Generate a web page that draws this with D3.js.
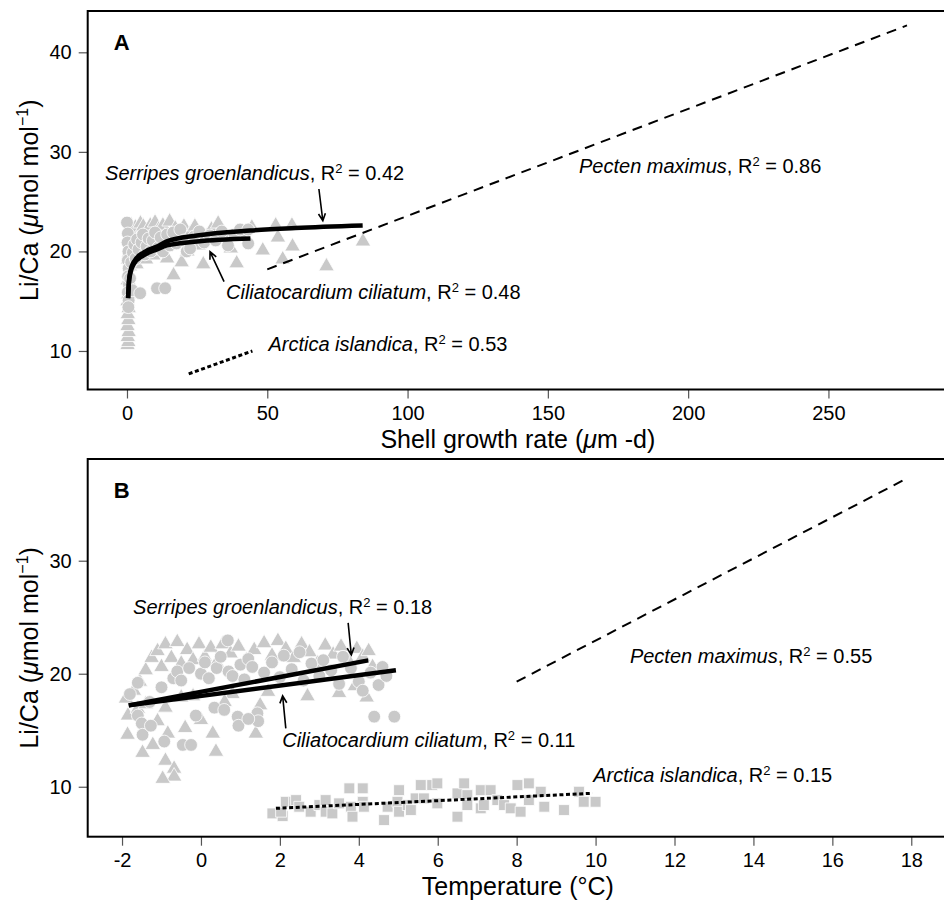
<!DOCTYPE html>
<html>
<head>
<meta charset="utf-8">
<script src="https://cdn.jsdelivr.net/npm/d3@7"></script>
<style>
  html, body { margin: 0; padding: 0; background: #fff; }
  svg { display: block; font-family: "Liberation Sans", Arial, Helvetica, sans-serif; }
</style>
</head>
<body>
<svg id="chart" width="944" height="900"></svg>
<script>
// ---------- data ----------
// Panel A: Li/Ca against shell growth rate (µm per day)
const serripesGrowth = [
  [0.2,10.6],[0.5,10.9],[0.3,11.4],[0.6,11.9],[0.2,12.5],[0.5,13.1],[0.3,13.7],[0.6,14.3],[0.2,15.0],[0.5,15.7],
  [0.8,16.4],[0.3,17.1],[0.6,17.8],[1.0,18.5],[0.4,19.2],[0.8,19.9],[1.2,20.6],[0.5,21.3],[0.9,22.0],[1.5,22.6],
  [1.8,19.4],[2.2,21.6],[2.6,20.3],[3.0,22.4],[3.4,18.7],[3.8,21.1],[4.3,19.9],[4.8,22.8],[5.3,20.6],[5.8,22.5],
  [6.3,21.3],[6.8,19.2],[7.3,22.0],[7.8,20.4],[8.3,22.6],[8.8,21.4],[9.4,19.6],[10.0,22.9],[10.6,20.9],[11.3,22.2],
  [12.0,20.1],[12.8,22.6],[13.5,21.5],[14.3,19.3],[15.2,23.0],[16.0,20.7],[16.6,17.6],[17.2,22.3],[18.2,21.2],[19.5,18.9],
  [20.3,22.5],[21.5,20.0],[22.5,21.8],[24.2,22.5],[25.5,20.6],[27.2,18.7],[28.3,21.5],[30.1,22.2],[32.5,22.8],[34.8,21.4],
  [37.0,20.3],[39.1,18.8],[40.5,21.7],[44.5,22.4],[48.4,20.1],[53.0,22.6],[53.8,21.4],[55.5,19.2],[58.8,22.6],[59.0,20.5],
  [71.1,18.5],[84.1,21.0]
];
const ciliatumGrowth = [
  [0.0,22.9],[0.3,21.8],[0.2,20.9],[0.5,20.0],[0.3,19.1],[0.6,18.3],[0.4,17.5],[0.7,16.7],[0.3,15.9],[0.6,15.1],
  [0.5,14.4],[1.1,17.3],[1.5,18.9],[1.9,16.1],[2.1,19.9],[2.6,20.7],[3.1,19.3],[3.6,21.2],[4.1,20.2],[4.7,15.8],
  [5.2,20.9],[5.7,21.7],[6.4,19.7],[7.0,20.5],[7.7,21.3],[8.5,20.0],[9.2,21.1],[10.0,21.9],[10.7,16.3],[11.2,20.4],
  [12.0,21.4],[12.8,20.0],[13.6,16.3],[14.3,21.7],[15.3,20.6],[16.5,21.9],[17.6,20.8],[19.0,22.2],[20.2,21.1],[21.3,20.0],
  [22.5,20.3],[24.0,21.5],[25.8,22.0],[27.5,20.9],[29.5,21.6],[31.6,21.1],[33.8,22.0],[36.0,20.6],[38.3,21.7],[40.3,22.2],
  [43.2,22.2],[43.2,20.8]
];
// fitted curves (growth rate, Li/Ca)
const serripesGrowthFit = [[0.4,15.3],[0.7,17.0],[1.2,18.0],[2.35,18.9],[5.9,19.9],[10.7,20.5],[14.2,21.0],[25,21.6],[44,22.1],[60,22.35],[84,22.6]];
const ciliatumGrowthFit = [[0.4,15.3],[0.7,16.9],[1.2,17.8],[2.35,18.7],[5.9,19.6],[10.7,20.2],[14.2,20.6],[25,21.0],[44,21.3]];
const pectenGrowthFit   = [[50,18.2],[278,42.7]];
const arcticaGrowthFit  = [[22,7.7],[44.7,10.0]];

// Panel B: Li/Ca against temperature (°C)
const serripesTemp = [
  [-1.9,17.8],[-1.85,16.3],[-1.7,18.5],[-1.55,19.3],[-1.4,20.3],[-1.25,21.4],[-1.1,22.0],[-1.0,20.6],[-0.9,22.6],[-0.75,21.4],
  [-0.6,22.8],[-0.5,20.9],[-0.35,22.1],[-0.2,21.2],[-0.05,22.6],[0.1,21.5],[0.25,22.3],[0.4,21.0],[0.55,22.6],[0.75,21.8],
  [0.95,22.4],[1.15,21.2],[1.35,22.1],[1.6,22.7],[1.8,21.6],[1.95,22.9],[2.15,22.2],[2.35,21.4],[2.55,22.6],[2.75,21.9],
  [2.95,20.9],[3.15,22.5],[3.35,21.7],[3.55,22.4],[3.75,21.1],[3.95,22.2],[4.1,21.5],[4.25,22.0],[4.35,20.6],
  [3.9,18.9],[3.5,18.3],[4.2,17.9],[2.7,18.0],[1.7,18.4],[0.8,18.2],[-0.2,18.0],[0.6,17.5],[1.5,17.2],[-0.9,17.0],
  [-0.5,17.9],[-1.6,16.9],[-1.4,17.3],[-1.1,15.8],[-0.4,15.2],[0.0,15.9],[0.3,14.7],[1.39,14.7],[-0.84,14.7],[-1.86,14.6],
  [-1.22,13.7],[-1.48,13.0],[0.38,13.1],[-0.9,12.3],[-0.68,11.6],[-0.68,10.9],[-0.97,10.7]
];
const ciliatumTemp = [
  [-1.8,18.2],[-1.6,19.2],[-1.6,16.3],[-1.5,15.6],[-1.48,14.6],[-1.27,15.4],[-1.3,17.5],[-1.0,18.8],[-0.93,14.0],[-0.7,19.6],
  [-0.6,20.2],[-0.5,19.4],[-0.46,13.7],[-0.3,20.5],[-0.25,13.7],[-0.13,16.3],[0.0,20.0],[0.1,21.0],[0.2,19.6],[0.34,17.0],
  [0.4,20.5],[0.5,21.5],[0.59,16.8],[0.68,22.95],[0.7,20.2],[0.8,19.8],[0.93,16.2],[1.0,20.8],[1.1,19.5],[1.2,21.3],
  [1.3,20.6],[1.43,16.5],[1.45,15.8],[1.6,20.1],[1.8,21.0],[2.0,19.7],[2.1,21.6],[2.3,20.4],[2.5,21.9],[2.6,19.4],
  [2.8,20.9],[3.0,19.8],[3.1,21.2],[3.3,20.3],[3.5,19.1],[3.6,21.5],[3.8,20.5],[4.0,19.3],[4.1,18.5],[4.3,20.1],
  [4.39,16.2],[4.5,19.0],[4.6,20.6],[4.7,19.8],[4.9,16.2],[0.95,15.4],[1.2,16.0]
];
const arcticaTemp = [
  [1.81,7.64],[2.07,7.4],[2.03,7.79],[2.15,8.67],[2.36,8.67],[2.41,8.82],[2.49,8.23],[2.78,7.79],[3.0,8.38],[3.16,7.79],
  [3.16,8.82],[3.33,7.64],[3.5,8.53],[3.76,9.86],[3.8,8.23],[3.84,7.35],[4.1,9.86],[4.1,8.67],[4.13,8.23],[4.64,7.05],
  [4.73,8.23],[4.98,8.67],[5.02,9.7],[5.02,7.79],[5.24,8.38],[5.32,7.94],[5.44,8.97],[5.57,10.15],[5.65,8.97],[5.86,10.15],
  [5.99,10.3],[5.99,8.53],[6.5,7.35],[6.5,9.41],[6.67,10.3],[6.75,9.26],[6.75,8.38],[7.09,9.7],[7.09,8.09],[7.17,8.38],
  [7.34,9.7],[7.51,8.82],[7.68,8.38],[7.85,8.09],[8.02,10.15],[8.1,7.79],[8.31,10.3],[8.31,8.82],[8.61,9.56],[8.7,8.23],
  [9.2,7.94],[9.58,9.56],[9.7,8.67],[10.0,8.67]
];
const serripesTempFit = [[-1.83,17.2],[4.24,21.18]];
const ciliatumTempFit = [[-1.83,17.2],[4.94,20.3]];
const pectenTempFit   = [[8.0,19.3],[17.9,37.3]];
const arcticaTempFit  = [[1.9,8.09],[9.92,9.42]];

// tick values
const growthTicks = [0, 50, 100, 150, 200, 250];
const tempTicks = [-2, 0, 2, 4, 6, 8, 10, 12, 14, 16, 18];
const liCaTicksA = [10, 20, 30, 40];
const liCaTicksB = [10, 20, 30];

// species labels with R² values
const labelsA = [
  { name: "Serripes groenlandicus", r2: "0.42", x: -7.8, y: 27.17 },
  { name: "Ciliatocardium ciliatum", r2: "0.48", x: 35.3, y: 15.22 },
  { name: "Arctica islandica", r2: "0.53", x: 50.4, y: 10.03 },
  { name: "Pecten maximus", r2: "0.86", x: 161.1, y: 27.85 }
];
const labelsB = [
  { name: "Serripes groenlandicus", r2: "0.18", x: -1.72, y: 25.31 },
  { name: "Ciliatocardium ciliatum", r2: "0.11", x: 2.06, y: 13.5 },
  { name: "Arctica islandica", r2: "0.15", x: 9.94, y: 10.41 },
  { name: "Pecten maximus", r2: "0.55", x: 10.87, y: 20.91 }
];
// arrows from labels to their fit lines: [from, to]
const arrowsA = [ [[68.4,26.27],[69.8,23.08]], [[34.6,16.96],[29.6,19.97]] ];
const arrowsB = [ [[3.73,24.5],[3.81,21.66]], [[2.15,15.16],[2.07,18.04]] ];

// ---------- drawing ----------
const svg = d3.select("#chart");
const LEFT = 87.7, RIGHT = 946;
const ptFill = "#c9c9c9";

function panel(opt) {
  const x = d3.scaleLinear().domain(opt.xDomain).range([LEFT, RIGHT]);
  const y = d3.scaleLinear().domain(opt.yDomain).range([opt.bottom, opt.top]);
  const g = svg.append("g");

  // points
  const pts = g.append("g");
  const sym = (type, size) => d3.symbol().type(type).size(size)();
  pts.selectAll("path.tri").data(opt.triangles).join("path")
    .attr("d", sym(d3.symbolTriangle, 105))
    .attr("transform", d => `translate(${x(d[0])},${y(d[1])})`)
    .attr("fill", ptFill).attr("stroke", "#fff").attr("stroke-width", 0.8);
  pts.selectAll("circle").data(opt.circles).join("circle")
    .attr("cx", d => x(d[0])).attr("cy", d => y(d[1])).attr("r", 6.4)
    .attr("fill", ptFill).attr("stroke", "#fff").attr("stroke-width", 0.8);
  if (opt.squares) {
    pts.selectAll("path.sq").data(opt.squares).join("path")
      .attr("d", sym(d3.symbolSquare, 118))
      .attr("transform", d => `translate(${x(d[0])},${y(d[1])})`)
      .attr("fill", ptFill).attr("stroke", "#fff").attr("stroke-width", 0.8);
  }

  // fit lines
  const line = d3.line().x(d => x(d[0])).y(d => y(d[1]));
  const curve = d3.line().x(d => x(d[0])).y(d => y(d[1])).curve(d3.curveMonotoneX);
  const fits = g.append("g").attr("fill", "none").attr("stroke", "#000");
  fits.append("path").attr("d", line(opt.arctica)).attr("stroke-width", 3).attr("stroke-dasharray", "4,2.6");
  fits.append("path").attr("d", line(opt.pecten)).attr("stroke-width", 2).attr("stroke-dasharray", "10,7");
  fits.append("path").attr("d", curve(opt.ciliatumFit)).attr("stroke-width", 4.5).attr("stroke-linecap", "butt");
  fits.append("path").attr("d", curve(opt.serripesFit)).attr("stroke-width", 4.5).attr("stroke-linecap", "butt");

  // arrows
  const ar = g.append("g").attr("stroke", "#000").attr("stroke-width", 1.6).attr("fill", "none");
  opt.arrows.forEach(([a, b]) => {
    const x1 = x(a[0]), y1 = y(a[1]), x2 = x(b[0]), y2 = y(b[1]);
    const ang = Math.atan2(y2 - y1, x2 - x1), L = 8, s = Math.PI / 7;
    ar.append("path").attr("d",
      `M${x1},${y1}L${x2},${y2}` +
      `M${x2 - L * Math.cos(ang - s)},${y2 - L * Math.sin(ang - s)}L${x2},${y2}` +
      `L${x2 - L * Math.cos(ang + s)},${y2 - L * Math.sin(ang + s)}`);
  });

  // species labels
  opt.labels.forEach(l => {
    const t = g.append("text").attr("x", x(l.x)).attr("y", y(l.y))
      .attr("font-size", 20).attr("fill", "#000");
    t.append("tspan").attr("font-style", "italic").text(l.name);
    t.append("tspan").text(", R");
    t.append("tspan").attr("font-size", 13).attr("dy", -7).text("2");
    t.append("tspan").attr("dy", 7).text(" = " + l.r2);
  });

  // panel letter
  g.append("text").attr("x", LEFT + 26).attr("y", opt.top + 39)
    .attr("font-size", 22).attr("font-weight", "bold").text(opt.letter);

  // axes (plain hyphen for negative tick labels)
  const fmt = d => String(d);
  const xa = g.append("g").attr("transform", `translate(0,${opt.bottom})`)
    .call(d3.axisBottom(x).tickValues(opt.xTicks).tickFormat(fmt).tickSize(9).tickPadding(6));
  const ya = g.append("g").attr("transform", `translate(${LEFT},0)`)
    .call(d3.axisLeft(y).tickValues(opt.yTicks).tickFormat(fmt).tickSize(9).tickPadding(7));
  [xa, ya].forEach(a => {
    a.select(".domain").remove();
    a.selectAll(".tick line").attr("stroke", "#555").attr("stroke-width", 1.2);
    a.selectAll(".tick text").attr("font-size", 20).attr("fill", "#000")
      .attr("font-family", "'Liberation Sans', Arial, Helvetica, sans-serif");
  });
  xa.selectAll(".tick text").attr("dy", "0.78em");

  // frame
  g.append("rect").attr("x", LEFT).attr("y", opt.top)
    .attr("width", RIGHT - LEFT).attr("height", opt.bottom - opt.top)
    .attr("fill", "none").attr("stroke", "#000").attr("stroke-width", 2);

  // axis titles
  const xt = g.append("text").attr("x", (LEFT + 944) / 2 + 2).attr("y", opt.bottom + 58.5)
    .attr("text-anchor", "middle").attr("font-size", 25);
  opt.xTitle(xt);

  const yt = g.append("text")
    .attr("transform", `translate(38,${(opt.top + opt.bottom) / 2}) rotate(-90)`)
    .attr("text-anchor", "middle").attr("font-size", 25);
  yt.append("tspan").text("Li/Ca (");
  yt.append("tspan").attr("font-style", "italic").text("\u03bc");
  yt.append("tspan").text("mol mol");
  yt.append("tspan").attr("font-size", 16).attr("dy", -10).text("\u22121");
  yt.append("tspan").attr("dy", 10).text(")");
}

panel({
  letter: "A", top: 11, bottom: 389.5,
  xDomain: [-14.0, 291.9], yDomain: [6.13, 44.15],
  xTicks: growthTicks, yTicks: liCaTicksA,
  triangles: serripesGrowth, circles: ciliatumGrowth,
  serripesFit: serripesGrowthFit, ciliatumFit: ciliatumGrowthFit,
  pecten: pectenGrowthFit, arctica: arcticaGrowthFit,
  labels: labelsA, arrows: arrowsA,
  xTitle: t => {
    t.append("tspan").text("Shell growth rate (");
    t.append("tspan").attr("font-style", "italic").text("\u03bc");
    t.append("tspan").text("m -d)");
  }
});

panel({
  letter: "B", top: 459, bottom: 836.7,
  xDomain: [-2.87, 18.88], yDomain: [5.58, 39.0],
  xTicks: tempTicks, yTicks: liCaTicksB,
  triangles: serripesTemp, circles: ciliatumTemp, squares: arcticaTemp,
  serripesFit: serripesTempFit, ciliatumFit: ciliatumTempFit,
  pecten: pectenTempFit, arctica: arcticaTempFit,
  labels: labelsB, arrows: arrowsB,
  xTitle: t => { t.text("Temperature (\u00b0C)"); }
});
</script>
</body>
</html>
